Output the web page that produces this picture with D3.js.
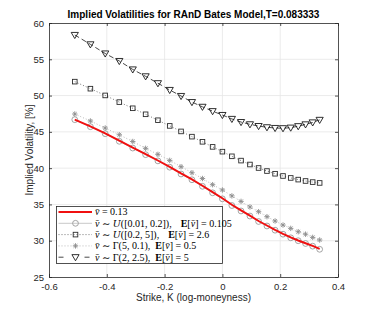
<!DOCTYPE html>
<html>
<head>
<meta charset="utf-8">
<script src="https://cdn.jsdelivr.net/npm/d3@7"></script>
<style>
  body { margin: 0; background: #fff; }
  svg { display: block; }
  .tick text { font-family: "Liberation Sans", Arial, sans-serif; font-size: 9.5px; fill: #262626; }
</style>
</head>
<body>
<div id="chart"></div>
<script>
/**
 * DATA
 * */
// log-moneyness strikes
const strikes = [-0.5108, -0.4568, -0.4055, -0.3567, -0.3102, -0.2657, -0.2231, -0.1823, -0.1431,
  -0.1054, -0.0690, -0.0339, 0, 0.0328, 0.0645, 0.0953, 0.1252, 0.1542, 0.1823, 0.2097,
  0.2364, 0.2624, 0.2877, 0.3124, 0.3365];

const volConst = [46.70, 45.75, 44.80, 43.78, 42.83, 41.92, 41.05, 40.18, 39.27, 38.45, 37.57, 36.70,
  35.85, 34.95, 34.18, 33.45, 32.72, 32.10, 31.50, 30.95, 30.45, 30.03, 29.65, 29.28, 28.88];
const volUnifLow = [46.68, 45.71, 44.75, 43.70, 42.77, 41.86, 41.00, 40.13, 39.19, 38.40, 37.50, 36.60,
  35.77, 34.85, 34.10, 33.40, 32.65, 32.03, 31.45, 30.90, 30.40, 30.00, 29.62, 29.25, 28.82];
const volUnifHigh = [51.92, 50.95, 50.02, 49.10, 48.25, 47.42, 46.60, 45.82, 45.06, 44.34, 43.63, 42.93,
  42.27, 41.63, 41.04, 40.50, 40.02, 39.60, 39.23, 38.92, 38.65, 38.42, 38.23, 38.08, 37.96];
const volGammaLow = [47.46, 46.50, 45.53, 44.60, 43.67, 42.73, 41.90, 41.07, 40.20, 39.37, 38.57, 37.72,
  36.99, 36.18, 35.42, 34.65, 34.00, 33.31, 32.72, 32.16, 31.70, 31.24, 30.90, 30.46, 30.10];
const volGammaHigh = [58.35, 57.06, 55.80, 54.76, 53.60, 52.65, 51.70, 50.77, 49.94, 49.10, 48.45, 47.85,
  47.32, 46.78, 46.35, 46.04, 45.80, 45.63, 45.53, 45.50, 45.58, 45.78, 46.03, 46.30, 46.65];

const xTicks = [-0.6, -0.4, -0.2, 0, 0.2, 0.4];
const yTicks = [25, 30, 35, 40, 45, 50, 55, 60];

const titleText = "Implied Volatilities for RAnD Bates Model,T=0.083333";
const xLabel = "Strike, K (log-moneyness)";
const yLabel = "Implied Volatility, [%]";

/**
 * CONSTANTS
 * */
const width = 374,
  height = 311,
  margin = { top: 23, right: 36, bottom: 34, left: 49 };

const svg = d3.select("#chart").append("svg")
  .attr("width", width)
  .attr("height", height);

const xScale = d3.scaleLinear().domain([-0.6, 0.4]).range([margin.left, width - margin.right]);
const yScale = d3.scaleLinear().domain([25, 60]).range([height - margin.bottom, margin.top]);

const axisColor = "#262626";
const gridColor = "#e6e6e6";

// GRID
svg.append("g").selectAll("line.gx").data(xTicks.slice(1, -1)).join("line")
  .attr("x1", d => xScale(d)).attr("x2", d => xScale(d))
  .attr("y1", yScale(25)).attr("y2", yScale(60))
  .attr("stroke", gridColor).attr("stroke-width", 0.8);
svg.append("g").selectAll("line.gy").data(yTicks.slice(1, -1)).join("line")
  .attr("x1", xScale(-0.6)).attr("x2", xScale(0.4))
  .attr("y1", d => yScale(d)).attr("y2", d => yScale(d))
  .attr("stroke", gridColor).attr("stroke-width", 0.8);

// AXES (ticks inward)
const xAxis = svg.append("g")
  .attr("transform", `translate(0,${yScale(25)})`)
  .call(d3.axisBottom(xScale).tickValues(xTicks).tickSizeInner(-3).tickSizeOuter(0).tickPadding(6)
    .tickFormat(d => d3.format("")(d).replace("−", "-")));
const xAxisTop = svg.append("g")
  .attr("transform", `translate(0,${yScale(60)})`)
  .call(d3.axisTop(xScale).tickValues(xTicks).tickSizeInner(-3).tickSizeOuter(0).tickFormat(""));
const yAxis = svg.append("g")
  .attr("transform", `translate(${xScale(-0.6)},0)`)
  .call(d3.axisLeft(yScale).tickValues(yTicks).tickSizeInner(-3).tickSizeOuter(0).tickPadding(5));
const yAxisRight = svg.append("g")
  .attr("transform", `translate(${xScale(0.4)},0)`)
  .call(d3.axisRight(yScale).tickValues(yTicks).tickSizeInner(-3).tickSizeOuter(0).tickFormat(""));
[xAxis, xAxisTop, yAxis, yAxisRight].forEach(g => {
  g.select(".domain").attr("stroke", axisColor).attr("stroke-width", 0.8);
  g.selectAll(".tick line").attr("stroke", axisColor).attr("stroke-width", 0.8);
});
xAxis.selectAll(".tick text").attr("dy", "0.71em");

// SERIES
const line = d3.line().x((d, i) => xScale(strikes[i])).y(d => yScale(d));

const circleColor = "#9a9a9a";
const squareColor = "#2b2b2b";
const starColor = "#8c8c8c";
const triColor = "#1a1a1a";

svg.append("path").datum(volUnifLow).attr("d", line)
  .attr("fill", "none").attr("stroke", "#c8c8c8").attr("stroke-width", 1);
svg.append("path").datum(volUnifHigh).attr("d", line)
  .attr("fill", "none").attr("stroke", "#555").attr("stroke-width", 0.8).attr("stroke-dasharray", "1,2");
svg.append("path").datum(volGammaLow).attr("d", line)
  .attr("fill", "none").attr("stroke", "#aaa").attr("stroke-width", 0.8).attr("stroke-dasharray", "1,2");
svg.append("path").datum(volGammaHigh).attr("d", line)
  .attr("fill", "none").attr("stroke", triColor).attr("stroke-width", 0.8).attr("stroke-dasharray", "5,3");

// markers
function circleMark(g, x, y) {
  g.append("circle").attr("cx", x).attr("cy", y).attr("r", 2.9)
    .attr("fill", "none").attr("stroke", circleColor).attr("stroke-width", 0.9);
}
function squareMark(g, x, y) {
  g.append("rect").attr("x", x - 2.3).attr("y", y - 2.3).attr("width", 4.6).attr("height", 4.6)
    .attr("fill", "none").attr("stroke", squareColor).attr("stroke-width", 0.9);
}
function starMark(g, x, y) {
  const r = 2.7, q = r * Math.SQRT1_2;
  g.append("path")
    .attr("d", `M${x - r},${y}H${x + r}M${x},${y - r}V${y + r}M${x - q},${y - q}L${x + q},${y + q}M${x - q},${y + q}L${x + q},${y - q}`)
    .attr("stroke", starColor).attr("stroke-width", 0.9).attr("fill", "none");
}
function triMark(g, x, y) {
  const w = 3.6, h = 3.4;
  g.append("path")
    .attr("d", `M${x - w},${y - h * 0.75}L${x + w},${y - h * 0.75}L${x},${y + h * 1.05}Z`)
    .attr("fill", "none").attr("stroke", triColor).attr("stroke-width", 0.9);
}

const marks = svg.append("g");
volUnifLow.forEach((v, i) => circleMark(marks, xScale(strikes[i]), yScale(v)));
volUnifHigh.forEach((v, i) => squareMark(marks, xScale(strikes[i]), yScale(v)));
volGammaLow.forEach((v, i) => starMark(marks, xScale(strikes[i]), yScale(v)));
volGammaHigh.forEach((v, i) => triMark(marks, xScale(strikes[i]), yScale(v)));

svg.append("path").datum(volConst).attr("d", line)
  .attr("fill", "none").attr("stroke", "#f01010").attr("stroke-width", 1.9);

// TITLE AND LABELS
svg.append("text")
  .attr("x", (xScale(-0.6) + xScale(0.4)) / 2).attr("y", 18)
  .attr("text-anchor", "middle")
  .attr("font-family", "Liberation Sans, Arial, sans-serif").attr("font-weight", "bold")
  .attr("font-size", 10).attr("fill", "#000")
  .text(titleText);
svg.append("text")
  .attr("x", (xScale(-0.6) + xScale(0.4)) / 2).attr("y", 301)
  .attr("text-anchor", "middle")
  .attr("font-family", "Liberation Sans, Arial, sans-serif")
  .attr("font-size", 10).attr("fill", axisColor)
  .text(xLabel);
svg.append("text")
  .attr("transform", `translate(33,${(yScale(25) + yScale(60)) / 2}) rotate(-90)`)
  .attr("text-anchor", "middle")
  .attr("font-family", "Liberation Sans, Arial, sans-serif")
  .attr("font-size", 10).attr("fill", axisColor)
  .text(yLabel);

// LEGEND
const legend = svg.append("g");
legend.append("rect")
  .attr("x", 56.5).attr("y", 206.5).attr("width", 166).attr("height", 57)
  .attr("fill", "#fff").attr("stroke", axisColor).attr("stroke-width", 0.8);

// each part: [text, style, extra gap before]
const legendRows = [
  { parts: [["v\u0304", "i"], [" = 0.13", ""]], stroke: "#f01010", width: 1.9, dash: null, mark: null },
  { parts: [["v\u0304", "i"], [" \u223C ", ""], ["U", "s"], ["([0.01, 0.2]),", ""], ["E", "b", 9], ["[", ""], ["v\u0304", "i"], ["] = 0.105", ""]],
    stroke: "#c8c8c8", width: 1, dash: null, mark: circleMark },
  { parts: [["v\u0304", "i"], [" \u223C ", ""], ["U", "s"], ["([0.2, 5]),", ""], ["E", "b", 9], ["[", ""], ["v\u0304", "i"], ["] = 2.6", ""]],
    stroke: "#555", width: 0.8, dash: "1,2", mark: squareMark },
  { parts: [["v\u0304", "i"], [" \u223C \u0393(5, 0.1),", ""], ["E", "b", 5], ["[", ""], ["v\u0304", "i"], ["] = 0.5", ""]],
    stroke: "#aaa", width: 0.8, dash: "1,2", mark: starMark },
  { parts: [["v\u0304", "i"], [" \u223C \u0393(2, 2.5),", ""], ["E", "b", 5], ["[", ""], ["v\u0304", "i"], ["] = 5", ""]],
    stroke: triColor, width: 0.8, dash: "5,3", mark: triMark }
];

legendRows.forEach((row, i) => {
  const cy = 212 + i * 11.3;
  const ln = legend.append("line")
    .attr("x1", 58.5).attr("x2", 92).attr("y1", cy).attr("y2", cy)
    .attr("stroke", row.stroke).attr("stroke-width", row.width);
  if (row.dash) ln.attr("stroke-dasharray", row.dash);
  if (row.mark === triMark) ln.attr("stroke-dasharray", "5,21,5");
  if (row.mark) row.mark(legend, 75.5, cy);
  const t = legend.append("text")
    .attr("x", 95).attr("y", cy + 3.3)
    .attr("font-family", "Liberation Serif, DejaVu Serif, serif")
    .attr("font-size", 10).attr("fill", "#000");
  row.parts.forEach(([s, st, gap]) => {
    const sp = t.append("tspan").text(s);
    if (gap) sp.attr("dx", gap);
    if (st === "i") sp.attr("font-style", "italic");
    if (st === "s") sp.attr("font-style", "italic").attr("font-family", "DejaVu Serif, serif").attr("font-size", 9.5);
    if (st === "b") sp.attr("font-weight", "bold");
  });
});
</script>
</body>
</html>
